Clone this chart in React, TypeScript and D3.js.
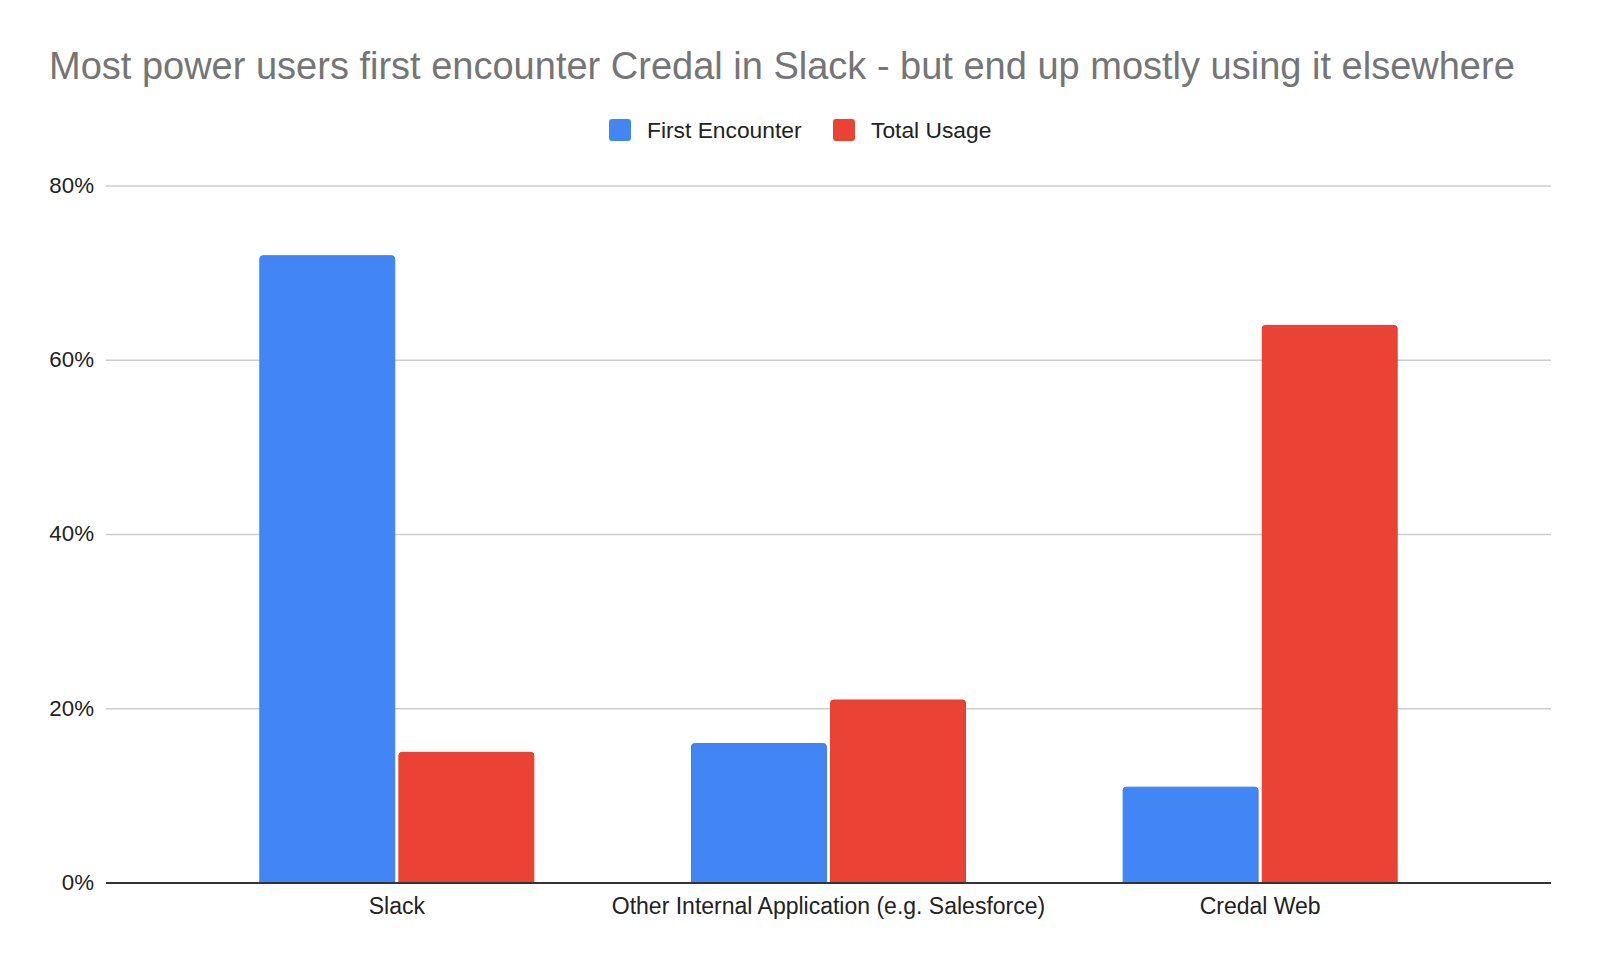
import React from "react";
import * as d3 from "d3";

const categories = ["Slack", "Other Internal Application (e.g. Salesforce)", "Credal Web"];
const seriesNames = ["First Encounter", "Total Usage"];
const firstEncounter = [72, 16, 11];
const totalUsage = [15, 21, 64];
const yTicks = [0, 20, 40, 60, 80];
const colors = ["#4285F4", "#EA4335"];
const strokes = ["#3a7ff0", "#e33a2c"];

const W = 1600;
const H = 966;
const plotLeft = 106;
const plotRight = 1551;
const yTop = 186;
const yBottom = 883;

export default function App() {
  const x = d3.scaleBand<string>().domain(categories).range([181, 1476]).paddingInner(0).paddingOuter(0);
  const inner = d3.scaleBand<string>().domain(seriesNames).range([0, 274]).paddingInner(0.03);
  const y = d3.scaleLinear().domain([0, 80]).range([yBottom, yTop]);
  const data = [firstEncounter, totalUsage];
  const font = "'Liberation Sans', Arial, sans-serif";

  const barPath = (x0: number, y0: number, w: number, h: number, r: number) => {
    const rr = Math.min(r, h);
    return `M${x0},${y0 + h}V${y0 + rr}Q${x0},${y0} ${x0 + rr},${y0}H${x0 + w - rr}Q${x0 + w},${y0} ${x0 + w},${y0 + rr}V${y0 + h}Z`;
  };

  return (
    <svg width={W} height={H} style={{ position: "absolute", left: 0, top: 0, background: "#fff" }} fontFamily={font}>
      <text x={49} y={79} fontSize={38} fill="#757575">
        Most power users first encounter Credal in Slack - but end up mostly using it elsewhere
      </text>
      {/* legend */}
      {seriesNames.map((s, i) => {
        const lx = i === 0 ? 609 : 833;
        return (
          <g key={s}>
            <rect x={lx} y={119} width={22} height={22} rx={3} fill={colors[i]} />
            <text x={lx + 38} y={137.5} fontSize={22.8} fill="#222">{s}</text>
          </g>
        );
      })}
      {/* grid */}
      {yTicks.map((t) => (
        <g key={t}>
          {t !== 0 && (
            <line x1={plotLeft} x2={plotRight} y1={y(t)} y2={y(t)} stroke="#cccccc" strokeWidth={1.3} />
          )}
          <text x={94} y={y(t) + 6.8} fontSize={22.3} textAnchor="end" fill="#222">{t}%</text>
        </g>
      ))}
      {/* bars */}
      {categories.map((c, ci) => (
        <g key={c} transform={`translate(${(x(c) as number) + x.bandwidth() / 2 - 137},0)`}>
          {seriesNames.map((s, si) => {
            const v = data[si][ci];
            const bx = inner(s) as number;
            const bw = inner.bandwidth();
            return (
              <path
                key={s}
                d={barPath(bx, y(v), bw, y(0) - y(v), 3)}
                fill={colors[si]}
                stroke={strokes[si]}
                strokeWidth={1}
              />
            );
          })}
        </g>
      ))}
      <line x1={plotLeft} x2={plotRight} y1={yBottom} y2={yBottom} stroke="#333" strokeWidth={2} />
      {categories.map((c) => (
        <text key={c} x={(x(c) as number) + x.bandwidth() / 2} y={914} fontSize={23} textAnchor="middle" fill="#222">
          {c}
        </text>
      ))}
    </svg>
  );
}
